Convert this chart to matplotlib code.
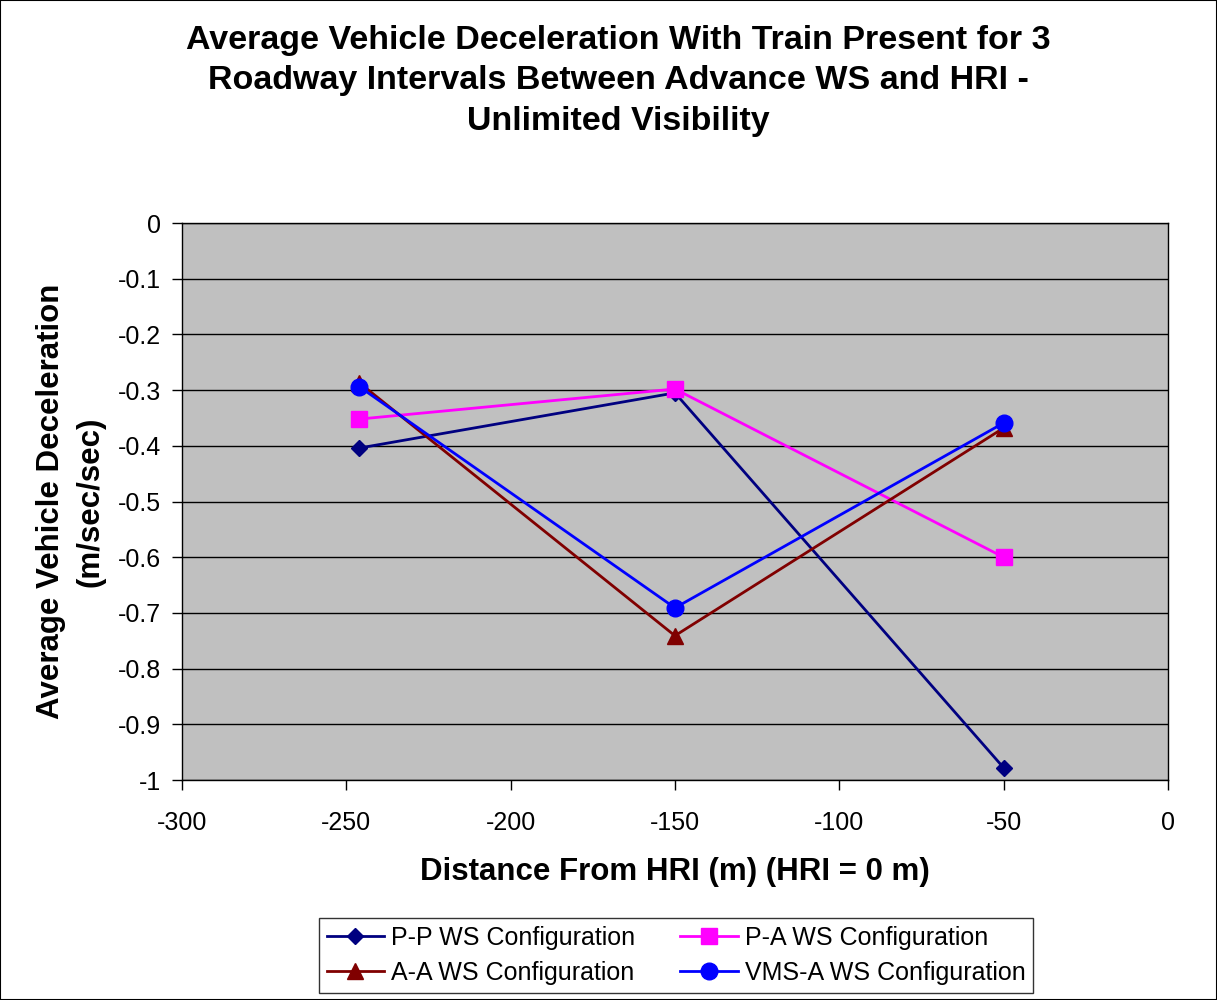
import numpy as np
import matplotlib.pyplot as plt
from matplotlib.patches import Rectangle

plt.rcParams['font.family'] = ['Liberation Sans', 'DejaVu Sans']
plt.rcParams['axes.unicode_minus'] = False

# distance from HRI (m)
dist = [-246, -150, -50]

pp = [-0.404, -0.305, -0.978]
pa = [-0.352, -0.298, -0.600]
aa = [-0.287, -0.741, -0.368]
vms = [-0.294, -0.691, -0.359]

labels = ['P-P WS Configuration', 'P-A WS Configuration',
          'A-A WS Configuration', 'VMS-A WS Configuration']

fig = plt.figure(figsize=(12.17, 10), dpi=100)
fig.patches.append(Rectangle((0, 0), 1, 1, transform=fig.transFigure,
                             fill=False, edgecolor='black', lw=1.5))

ax = fig.add_axes([0.1495, 0.22, 0.8102, 0.557])
ax.set_facecolor('#C0C0C0')

l1, = ax.plot(dist, pp, color='#000080', marker='D', ms=8, lw=2)
l2, = ax.plot(dist, pa, color='#FF00FF', marker='s', ms=11, lw=2)
l3, = ax.plot(dist, aa, color='#800000', marker='^', ms=11, lw=2)
l4, = ax.plot(dist, vms, color='#0000FF', marker='o', ms=12, lw=2)

ax.set_xlim(-300, 0)
ax.set_ylim(-1, 0)
ax.set_xticks(np.arange(-300, 1, 50))
ax.set_yticks(np.arange(-1, 0.01, 0.1))
ax.set_yticklabels(['-1', '-0.9', '-0.8', '-0.7', '-0.6', '-0.5',
                    '-0.4', '-0.3', '-0.2', '-0.1', '0'])
ax.yaxis.grid(True, color='black', lw=1)
ax.set_axisbelow(True)
ax.tick_params(labelsize=18, direction='out', length=7, width=1, pad=8)
ax.tick_params(axis='x', pad=15)
for s in ax.spines.values():
    s.set_linewidth(1)

ax.set_xlabel('Distance From HRI (m) (HRI = 0 m)', fontsize=22.5,
              fontweight='bold', labelpad=16)
ax.set_ylabel('Average Vehicle Deceleration\n(m/sec/sec)', fontsize=22.5,
              fontweight='bold', labelpad=9, linespacing=1.42)

fig.suptitle('Average Vehicle Deceleration With Train Present for 3\n'
             'Roadway Intervals Between Advance WS and HRI -\n'
             'Unlimited Visibility', fontsize=24.5, fontweight='bold',
             x=0.508, y=0.975, linespacing=1.39)

# matplotlib fills legend columns first, so reorder for row layout
leg = fig.legend([l1, l3, l2, l4],
                 [labels[0], labels[2], labels[1], labels[3]],
                 ncol=2, loc='center',
                 bbox_to_anchor=(0.5555, 0.0445), fontsize=18,
                 frameon=True, fancybox=False, edgecolor='black',
                 handlelength=2.3, columnspacing=1.8, borderpad=0.3,
                 labelspacing=0.45, handletextpad=0.28)
leg.get_frame().set_linewidth(1)

fig.savefig('out.png', dpi=100)
